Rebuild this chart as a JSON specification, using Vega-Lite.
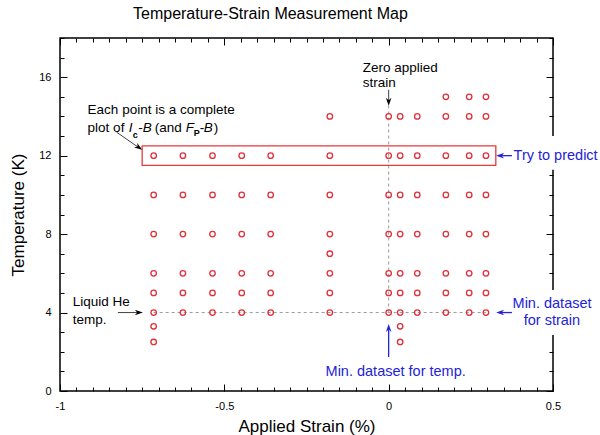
{
  "$schema": "https://vega.github.io/schema/vega-lite/v6.json",
  "width": 493,
  "height": 353,
  "autosize": "none",
  "padding": {"left": 60, "top": 38, "right": 47, "bottom": 44},
  "background": "white",
  "title": {"text": "Temperature-Strain Measurement Map", "anchor": "start", "frame": "group", "dx": 73, "fontSize": 16, "font": "Liberation Sans", "fontWeight": "normal", "color": "black", "offset": 10},
  "config": {
    "view": {"stroke": "black", "strokeWidth": 1.5},
    "axis": {"grid": false, "domain": false, "tickColor": "black", "tickWidth": 1, "labelFont": "Liberation Sans", "labelFontSize": 11, "labelColor": "black", "titleFont": "Liberation Sans", "titleFontSize": 17, "titleFontWeight": "normal", "titleColor": "black", "labelOverlap": false, "labelFlush": false},
    "text": {"font": "Liberation Sans"}
  },
  "resolve": {"axis": {"x": "independent", "y": "independent"}},
  "layer": [
    {
      "data": {"values": [
        {"x": 0, "x2": 0, "y": 4, "y2": 14.55},
        {"x": -0.715, "x2": 0.296, "y": 4, "y2": 4}
      ]},
      "mark": {"type": "rule", "color": "#999999", "strokeDash": [3, 3], "strokeWidth": 1},
      "encoding": {
        "x": {"field": "x", "type": "quantitative", "axis": null},
        "x2": {"field": "x2"},
        "y": {"field": "y", "type": "quantitative", "axis": null},
        "y2": {"field": "y2"}
      }
    },
    {
      "data": {"values": [{"x": -0.75, "x2": 0.326, "y": 11.5, "y2": 12.5}]},
      "mark": {"type": "rect", "fill": "transparent", "stroke": "#e8383c", "strokeWidth": 1.3},
      "encoding": {
        "x": {"field": "x", "type": "quantitative", "axis": null},
        "x2": {"field": "x2"},
        "y": {"field": "y", "type": "quantitative", "axis": null},
        "y2": {"field": "y2"}
      }
    },
    {
      "data": {"values": [
        {"x": 0.377, "x2": 0.66, "y": 11.28, "y2": 13.0},
        {"x": 0.377, "x2": 0.66, "y": 2.86, "y2": 5.15}
      ]},
      "mark": {"type": "rect", "fill": "white", "stroke": null},
      "encoding": {
        "x": {"field": "x", "type": "quantitative", "axis": null},
        "x2": {"field": "x2"},
        "y": {"field": "y", "type": "quantitative", "axis": null},
        "y2": {"field": "y2"}
      }
    },
    {
      "data": {"name": "pts", "values": [
        {"strain": -0.715, "temperature": 2.5}, {"strain": -0.715, "temperature": 3.3}, {"strain": -0.715, "temperature": 4}, {"strain": -0.715, "temperature": 5}, {"strain": -0.715, "temperature": 6}, {"strain": -0.715, "temperature": 8}, {"strain": -0.715, "temperature": 10}, {"strain": -0.715, "temperature": 12},
        {"strain": -0.626, "temperature": 4}, {"strain": -0.626, "temperature": 5}, {"strain": -0.626, "temperature": 6}, {"strain": -0.626, "temperature": 8}, {"strain": -0.626, "temperature": 10}, {"strain": -0.626, "temperature": 12},
        {"strain": -0.536, "temperature": 4}, {"strain": -0.536, "temperature": 5}, {"strain": -0.536, "temperature": 6}, {"strain": -0.536, "temperature": 8}, {"strain": -0.536, "temperature": 10}, {"strain": -0.536, "temperature": 12},
        {"strain": -0.447, "temperature": 4}, {"strain": -0.447, "temperature": 5}, {"strain": -0.447, "temperature": 6}, {"strain": -0.447, "temperature": 8}, {"strain": -0.447, "temperature": 10}, {"strain": -0.447, "temperature": 12},
        {"strain": -0.359, "temperature": 4}, {"strain": -0.359, "temperature": 5}, {"strain": -0.359, "temperature": 6}, {"strain": -0.359, "temperature": 8}, {"strain": -0.359, "temperature": 10}, {"strain": -0.359, "temperature": 12},
        {"strain": -0.179, "temperature": 4}, {"strain": -0.179, "temperature": 5}, {"strain": -0.179, "temperature": 6}, {"strain": -0.179, "temperature": 7}, {"strain": -0.179, "temperature": 8}, {"strain": -0.179, "temperature": 10}, {"strain": -0.179, "temperature": 12}, {"strain": -0.179, "temperature": 14},
        {"strain": 0, "temperature": 4}, {"strain": 0, "temperature": 5}, {"strain": 0, "temperature": 6}, {"strain": 0, "temperature": 8}, {"strain": 0, "temperature": 10}, {"strain": 0, "temperature": 12}, {"strain": 0, "temperature": 14},
        {"strain": 0.035, "temperature": 2.5}, {"strain": 0.035, "temperature": 3.3}, {"strain": 0.035, "temperature": 4}, {"strain": 0.035, "temperature": 5}, {"strain": 0.035, "temperature": 6}, {"strain": 0.035, "temperature": 8}, {"strain": 0.035, "temperature": 10}, {"strain": 0.035, "temperature": 12}, {"strain": 0.035, "temperature": 14},
        {"strain": 0.087, "temperature": 4}, {"strain": 0.087, "temperature": 5}, {"strain": 0.087, "temperature": 6}, {"strain": 0.087, "temperature": 8}, {"strain": 0.087, "temperature": 10}, {"strain": 0.087, "temperature": 12}, {"strain": 0.087, "temperature": 14},
        {"strain": 0.174, "temperature": 4}, {"strain": 0.174, "temperature": 5}, {"strain": 0.174, "temperature": 6}, {"strain": 0.174, "temperature": 8}, {"strain": 0.174, "temperature": 10}, {"strain": 0.174, "temperature": 12}, {"strain": 0.174, "temperature": 14}, {"strain": 0.174, "temperature": 15},
        {"strain": 0.245, "temperature": 4}, {"strain": 0.245, "temperature": 5}, {"strain": 0.245, "temperature": 6}, {"strain": 0.245, "temperature": 8}, {"strain": 0.245, "temperature": 10}, {"strain": 0.245, "temperature": 12}, {"strain": 0.245, "temperature": 14}, {"strain": 0.245, "temperature": 15},
        {"strain": 0.296, "temperature": 4}, {"strain": 0.296, "temperature": 5}, {"strain": 0.296, "temperature": 6}, {"strain": 0.296, "temperature": 8}, {"strain": 0.296, "temperature": 10}, {"strain": 0.296, "temperature": 12}, {"strain": 0.296, "temperature": 14}, {"strain": 0.296, "temperature": 15}
      ]},
      "mark": {"type": "point", "shape": "circle", "filled": false, "color": "#e0303a", "size": 30, "strokeWidth": 1.3, "opacity": 1},
      "encoding": {
        "x": {"field": "strain", "type": "quantitative", "scale": {"domain": [-1, 0.5], "nice": false, "zero": false},
          "axis": {"orient": "bottom", "title": "Applied Strain (%)", "titlePadding": 4,
            "values": [-1,-0.95,-0.9,-0.85,-0.8,-0.75,-0.7,-0.65,-0.6,-0.55,-0.5,-0.45,-0.4,-0.35,-0.3,-0.25,-0.2,-0.15,-0.1,-0.05,0,0.05,0.1,0.15,0.2,0.25,0.3,0.35,0.4,0.45,0.5],
            "labelExpr": "abs(datum.value*2 - round(datum.value*2)) < 0.001 ? '' + datum.value : ''",
            "tickSize": {"condition": {"test": "abs(datum.value*2 - round(datum.value*2)) < 0.001", "value": -7}, "value": -4},
            "labelPadding": 16}},
        "y": {"field": "temperature", "type": "quantitative", "scale": {"domain": [0, 18], "nice": false, "zero": false},
          "axis": {"orient": "left", "title": "Temperature (K)", "titlePadding": 11,
            "values": [0,1,2,3,4,5,6,7,8,9,10,11,12,13,14,15,16,17,18],
            "labelExpr": "datum.value % 4 === 0 && datum.value <= 16 ? '' + datum.value : ''",
            "tickSize": {"condition": {"test": "datum.value % 4 === 0", "value": -7}, "value": -4},
            "labelPadding": 16}}
      }
    },
    {
      "data": {"name": "pts"},
      "mark": {"type": "point", "opacity": 0},
      "encoding": {
        "x": {"field": "strain", "type": "quantitative",
          "axis": {"orient": "top", "title": null, "labels": false,
            "values": [-1,-0.95,-0.9,-0.85,-0.8,-0.75,-0.7,-0.65,-0.6,-0.55,-0.5,-0.45,-0.4,-0.35,-0.3,-0.25,-0.2,-0.15,-0.1,-0.05,0,0.05,0.1,0.15,0.2,0.25,0.3,0.35,0.4,0.45,0.5],
            "tickSize": {"condition": {"test": "abs(datum.value*2 - round(datum.value*2)) < 0.001", "value": -7}, "value": -4}}},
        "y": {"field": "temperature", "type": "quantitative",
          "axis": {"orient": "right", "title": null, "labels": false,
            "values": [0,1,2,3,4,5,6,7,8,9,10,11,12,13,14,15,16,17,18],
            "tickSize": {"condition": {"test": "datum.value % 4 === 0", "value": -7}, "value": -4}}}
      }
    },
    {
      "data": {"values": [
        {"x": -0.828, "x2": -0.755, "y": 13.2, "y2": 12.35},
        {"x": 0, "x2": 0, "y": 15.36, "y2": 14.7},
        {"x": -0.824, "x2": -0.76, "y": 4, "y2": 4}
      ]},
      "mark": {"type": "rule", "color": "#444444", "strokeWidth": 1},
      "encoding": {
        "x": {"field": "x", "type": "quantitative", "axis": null},
        "x2": {"field": "x2"},
        "y": {"field": "y", "type": "quantitative", "axis": null},
        "y2": {"field": "y2"}
      }
    },
    {
      "data": {"values": [
        {"x": 0.375, "x2": 0.335, "y": 12, "y2": 12},
        {"x": 0.375, "x2": 0.335, "y": 4, "y2": 4},
        {"x": 0, "x2": 0, "y": 1.73, "y2": 3.2}
      ]},
      "mark": {"type": "rule", "color": "#2323d8", "strokeWidth": 1.3},
      "encoding": {
        "x": {"field": "x", "type": "quantitative", "axis": null},
        "x2": {"field": "x2"},
        "y": {"field": "y", "type": "quantitative", "axis": null},
        "y2": {"field": "y2"}
      }
    },
    {
      "data": {"values": [
        {"x": -0.75, "y": 12.3, "angle": 35},
        {"x": 0, "y": 14.54, "angle": 90},
        {"x": -0.748, "y": 4, "angle": 0}
      ]},
      "mark": {"type": "point", "shape": "M0,0 L-2,-0.7 L-1.4,0 L-2,0.7 Z", "filled": true, "color": "black", "size": 64, "opacity": 1},
      "encoding": {
        "x": {"field": "x", "type": "quantitative", "axis": null},
        "y": {"field": "y", "type": "quantitative", "axis": null},
        "angle": {"field": "angle", "type": "quantitative", "scale": null}
      }
    },
    {
      "data": {"values": [
        {"x": 0.327, "y": 12, "angle": 180},
        {"x": 0.327, "y": 4, "angle": 180},
        {"x": 0, "y": 3.42, "angle": 270}
      ]},
      "mark": {"type": "point", "shape": "M0,0 L-2,-0.7 L-1.4,0 L-2,0.7 Z", "filled": true, "color": "#2323d8", "size": 64, "opacity": 1},
      "encoding": {
        "x": {"field": "x", "type": "quantitative", "axis": null},
        "y": {"field": "y", "type": "quantitative", "axis": null},
        "angle": {"field": "angle", "type": "quantitative", "scale": null}
      }
    },
    {
      "data": {"values": [
        {"x": -0.916, "y": 14.34, "label": "Each point is a complete"},
        {"x": -0.916, "y": 13.42, "label": "plot of"},
        {"x": -0.7622, "y": 13.42, "label": "-"},
        {"x": -0.7119, "y": 13.42, "label": "(and"},
        {"x": -0.575, "y": 13.42, "label": "-"},
        {"x": -0.5324, "y": 13.42, "label": ")"},
        {"x": -0.079, "y": 16.48, "label": "Zero applied"},
        {"x": -0.079, "y": 15.71, "label": "strain"},
        {"x": -0.961, "y": 4.54, "label": "Liquid He"},
        {"x": -0.961, "y": 3.62, "label": "temp."}
      ]},
      "mark": {"type": "text", "align": "left", "baseline": "middle", "fontSize": 13.5, "color": "black"},
      "encoding": {
        "x": {"field": "x", "type": "quantitative", "axis": null},
        "y": {"field": "y", "type": "quantitative", "axis": null},
        "text": {"field": "label"}
      }
    },
    {
      "data": {"values": [
        {"x": -0.791, "y": 13.42, "label": "I"},
        {"x": -0.7484, "y": 13.42, "label": "B"},
        {"x": -0.6176, "y": 13.42, "label": "F"},
        {"x": -0.5628, "y": 13.42, "label": "B"}
      ]},
      "mark": {"type": "text", "align": "left", "baseline": "middle", "fontSize": 13.5, "fontStyle": "italic", "color": "black"},
      "encoding": {
        "x": {"field": "x", "type": "quantitative", "axis": null},
        "y": {"field": "y", "type": "quantitative", "axis": null},
        "text": {"field": "label"}
      }
    },
    {
      "data": {"values": [
        {"x": -0.7788, "y": 13.05, "label": "c"},
        {"x": -0.5932, "y": 13.15, "label": "P"}
      ]},
      "mark": {"type": "text", "align": "left", "baseline": "middle", "fontSize": 9, "fontWeight": "bold", "color": "black"},
      "encoding": {
        "x": {"field": "x", "type": "quantitative", "axis": null},
        "y": {"field": "y", "type": "quantitative", "axis": null},
        "text": {"field": "label"}
      }
    },
    {
      "data": {"values": [
        {"x": 0.38, "y": 12, "label": "Try to predict"},
        {"x": 0.377, "y": 4.44, "label": "Min. dataset"},
        {"x": 0.411, "y": 3.57, "label": "for strain"},
        {"x": -0.192, "y": 0.97, "label": "Min. dataset for temp."}
      ]},
      "mark": {"type": "text", "align": "left", "baseline": "middle", "fontSize": 14.5, "color": "#2323d8"},
      "encoding": {
        "x": {"field": "x", "type": "quantitative", "axis": null},
        "y": {"field": "y", "type": "quantitative", "axis": null},
        "text": {"field": "label"}
      }
    }
  ]
}
